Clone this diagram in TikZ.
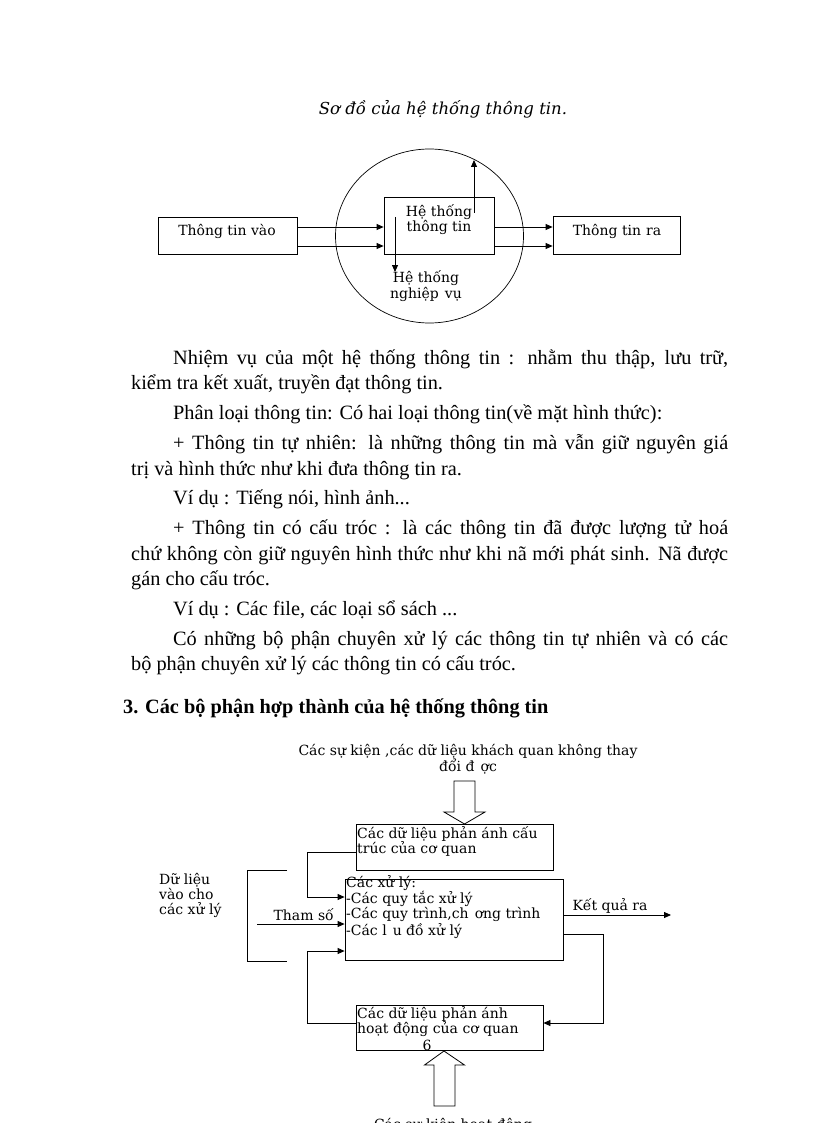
\documentclass[tikz,border=0pt]{standalone}
\usepackage{fontspec}
\setmainfont{Liberation Serif}
\newfontfamily\djs{DejaVu Serif}
\usetikzlibrary{arrows.meta,shapes.geometric}
\begin{document}
\begin{tikzpicture}[x=1pt,y=-1pt,
  box/.style={draw, line width=0.8pt, inner sep=0pt, rectangle},
  arr/.style={line width=0.8pt, -{Triangle[length=7pt,width=6pt]}},
  ln/.style={line width=0.8pt},
  body/.style={anchor=base west, inner sep=0pt, font=\fontsize{20.3}{22}\selectfont},
  dtxt/.style={inner sep=0pt, font=\djs\fontsize{14}{14}\selectfont},
  btxt/.style={inner sep=0pt, anchor=base west, align=left, font=\djs\fontsize{14}{15}\selectfont},
]
\useasboundingbox (0,0) rectangle (816,1123);
\fill[white] (0,0) rectangle (816,1123);

% ---------- Diagram 1 ----------
\node[dtxt, anchor=base, font=\djs\itshape\fontsize{16.5}{18}\selectfont] (title) at (443,115) {Sơ đồ của hệ thống thông tin.};

\node[draw, ellipse, line width=0.7pt, minimum width=188pt, minimum height=174pt, inner sep=0pt] (circ) at (429.5,236) {};
\node[box, fill=white, minimum width=139pt, minimum height=37pt] (vao) at (227.5,235.5) {};
\node[dtxt, anchor=base] (vaot) at (227,235.5) {Thông tin vào};
\node[box, fill=white, minimum width=110pt, minimum height=57pt] (ht) at (439,225.5) {};
\node[dtxt, align=center] (htt) at (439,219.5) {Hệ thống\\thông tin};
\node[box, minimum width=127pt, minimum height=38pt] (ra) at (616.5,235) {};
\node[dtxt, anchor=base] (rat) at (617,235.5) {Thông tin\hspace{5pt}ra};
\node[dtxt, align=center] (nv) at (426,286) {Hệ thống\\nghiệp\hspace{6pt}vụ};

\coordinate (ya) at (0,227);
\coordinate (yb) at (0,246);
\draw[arr] (vao.east |- ya) -- (ht.west |- ya);
\draw[arr] (vao.east |- yb) -- (ht.west |- yb);
\draw[arr] (ht.east |- ya) -- (ra.west |- ya);
\draw[arr] (ht.east |- yb) -- (ra.west |- yb);
\coordinate (upA) at (474,213);
\coordinate (upB) at (474,160);
\draw[arr] (upA) -- (upB);
\coordinate (dnA) at (395,217);
\coordinate (dnB) at (395,272);
\draw[arr] (dnA) -- (dnB);

% ---------- Body text ----------
\node[body] (p1) at (173,364) {\makebox[555pt][s]{Nhiệm vụ của một hệ thống thông tin : nhằm thu thập, lưu trữ,}};
\node[body] (p2) at (131,389) {kiểm tra kết xuất, truyền đạt thông tin.};
\node[body] (p3) at (173,419) {Phân loại thông tin: Có hai loại thông tin(về mặt hình thức):};
\node[body] (p4) at (173,449) {\makebox[555pt][s]{+ Thông tin tự nhiên: là những thông tin mà vẫn giữ nguyên giá}};
\node[body] (p5) at (131,475) {trị và hình thức như khi đưa thông tin ra.};
\node[body] (p6) at (173,504) {Ví dụ : Tiếng nói, hình ảnh...};
\node[body] (p7) at (173,534) {\makebox[555pt][s]{+ Thông tin có cấu tróc : là các thông tin đã được lượng tử hoá}};
\node[body] (p8) at (131,560) {\makebox[597pt][s]{chứ không còn giữ nguyên hình thức như khi nã mới phát sinh. Nã được}};
\node[body] (p9) at (131,585) {gán cho cấu tróc.};
\node[body] (p10) at (173,615) {Ví dụ : Các file, các loại sổ sách ...};
\node[body] (p11) at (173,645) {\makebox[555pt][s]{Có những bộ phận chuyên xử lý các thông tin tự nhiên và có các}};
\node[body] (p12) at (131,670) {bộ phận chuyên xử lý các thông tin có cấu tróc.};

\node[body, font=\bfseries\fontsize{20.3}{22}\selectfont] (h3) at (123,713) {3. Các bộ phận hợp thành của hệ thống thông tin};

% ---------- Diagram 2 ----------
% (multi-line nodes: base anchor = baseline of the last line)
\node[dtxt, anchor=base, align=center, font=\djs\fontsize{14}{16}\selectfont] (top) at (468,771) {Các sự kiện ,các dữ liệu khách quan không thay\\đổi đ\hspace{6pt}ợc};

\draw[line width=0.8pt] (454,781) -- (475,781) -- (475,812) -- (485,812) -- (464.5,824) -- (444,812) -- (454,812) -- cycle;

\node[box, minimum width=197pt, minimum height=46pt] (b1) at (454.5,847) {};
\node[btxt] (b1t) at (357,853) {Các dữ liệu phản ánh cấu\\trúc của cơ quan};
\node[box, minimum width=218pt, minimum height=81pt] (b2) at (454,919.5) {};
\node[btxt] (b2t) at (346,935) {Các xử lý:\\-Các quy tắc xử lý\\-Các quy trình,ch\hspace{6pt}ơng trình\\-Các l\hspace{6pt}u đồ xử lý};
\node[box, minimum width=187pt, minimum height=45pt] (b3) at (449.5,1027.5) {};
\node[btxt] (b3t) at (357,1033) {Các dữ liệu phản ánh\\hoạt động của cơ quan};
\node[dtxt, anchor=base] (pg) at (427,1050) {6};

\node[btxt] (dl) at (159,914) {Dữ liệu\\vào cho\\các xử lý};
\node[dtxt, anchor=base east] (ts) at (334,920) {Tham số};
\node[dtxt, anchor=base] (kq) at (610,910) {Kết quả ra};

\coordinate (y1) at (0,852);
\coordinate (y2) at (0,897);
\coordinate (y3) at (0,924);
\coordinate (y4) at (0,951);
\coordinate (y5) at (0,1023);
\coordinate (y6) at (0,915);
\coordinate (y7) at (0,934);
\coordinate (xl) at (307,0);
\coordinate (xr) at (603,0);

\draw[arr] (b1.west |- y1) -| (xl |- y2) -- (b2.west |- y2);
\coordinate (tsA) at (257,924);
\draw[arr] (tsA) -- (b2.west |- y3);
\draw[arr] (b3.west |- y5) -| (xl |- y4) -- (b2.west |- y4);
\coordinate (br1) at (287,870);
\coordinate (br2) at (247,870);
\coordinate (br3) at (247,961);
\coordinate (br4) at (287,961);
\draw[ln] (br1) -- (br2) -- (br3) -- (br4);
\coordinate (kqB) at (671,915);
\draw[arr] (b2.east |- y6) -- (kqB);
\draw[arr] (b2.east |- y7) -| (xr |- y5) -- (b3.east |- y5);

\draw[line width=0.8pt] (444,1051) -- (464.5,1065) -- (455,1065) -- (455,1106) -- (434,1106) -- (434,1065) -- (424.5,1065) -- cycle;

\node[dtxt, anchor=base] (bot) at (453,1129) {Các sự kiện hoạt động};
\end{tikzpicture}
\end{document}
